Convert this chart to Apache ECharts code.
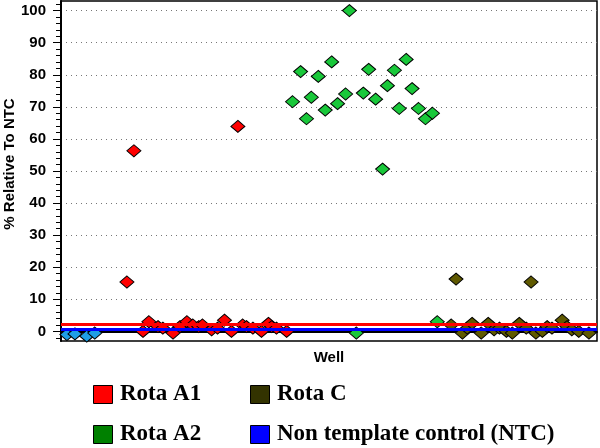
<!DOCTYPE html>
<html>
<head>
<meta charset="utf-8">
<script src="https://cdn.jsdelivr.net/npm/echarts@6/dist/echarts.min.js"></script>
<style>html,body{margin:0;padding:0;background:#fff}#c{width:600px;height:448px}</style>
</head>
<body>
<div id="c"></div>
<script>
// Well positions (x) and % Relative To NTC (y)
const ntcWells   = [1.1, 2.6, 4.8, 6.3];
const ntcValues  = [-1, -0.8, -1.5, -0.5];

const a1Wells  = [12.3, 13.6, 15.3, 16.4, 18.1, 19.0, 20.9, 22.2, 23.5, 24.6, 25.7, 26.4, 28.1, 29.2, 30.5, 31.8, 33.0, 33.9, 34.6, 35.8, 37.4, 38.7, 39.3, 40.2, 42.1];
const a1Values = [15.4, 56.3, 0, 3, 1.5, 1, -0.5, 1.5, 3, 2, 1.5, 2, 0.5, 1, 3.5, 0, 63.9, 2, 1.5, 1, 0, 2.5, 1.5, 1, 0];

const a2Wells  = [43.2, 44.7, 45.8, 46.7, 48.0, 49.3, 50.5, 51.6, 53.1, 53.8, 55.1, 56.4, 57.4, 58.7, 60.0, 60.9, 62.2, 63.1, 64.4, 65.5, 66.7, 68.0, 69.3, 70.2];
const a2Values = [71.6, 81, 66.3, 73, 79.5, 69, 84, 71, 74, 100, -0.5, 74.3, 81.7, 72.4, 50.6, 76.6, 81.4, 69.5, 84.8, 75.7, 69.5, 66.3, 68, 3];

const cWells  = [72.8, 73.7, 74.9, 75.8, 76.7, 78.4, 79.7, 80.8, 81.8, 83.1, 84.2, 85.5, 86.8, 87.7, 88.6, 89.8, 90.7, 91.6, 93.5, 94.4, 95.3, 96.6, 98.5];
const cValues = [2, 16.3, -0.5, 1, 2.5, -0.5, 2.5, 0.5, 1, 0, -0.5, 2.5, 1, 15.4, -0.5, 0, 1.5, 1, 3.5, 1.5, 0.5, 0, -0.5];

const cutoffLine = 2.2;   // red threshold line
const ntcLine    = 0.6;   // blue NTC line

const yTicks = [0, 10, 20, 30, 40, 50, 60, 70, 80, 90, 100];
const yMinorTicks = [-2, 2, 4, 6, 8, 12, 14, 16, 18, 22, 24, 26, 28, 32, 34, 36, 38, 42, 44, 46, 48, 52, 54, 56, 58, 62, 64, 66, 68, 72, 74, 76, 78, 82, 84, 86, 88, 92, 94, 96, 98, 102];

const legendNames = ['Rota A1', 'Rota C', 'Rota A2', 'Non template control (NTC)'];
const legendColors = ['#ff0000', '#333300', '#008000', '#0000ff'];

function pairs(xs, ys) { return xs.map((x, i) => [x, ys[i]]); }

const chart = echarts.init(document.getElementById('c'), null, {renderer: 'canvas'});

const marker = (color) => ({
  type: 'scatter',
  symbol: 'diamond',
  symbolSize: [14, 12],
  clip: false,
  itemStyle: {color: color, borderColor: '#000', borderWidth: 1, opacity: 1},
  emphasis: {disabled: true}
});

const legendGraphics = [];
const legendPos = [[93, 385], [250, 385], [93, 425], [250, 425]];
legendNames.forEach((n, i) => {
  const [x, y] = legendPos[i];
  legendGraphics.push({
    type: 'rect', left: x, top: y, shape: {width: 19, height: 18},
    style: {fill: legendColors[i], stroke: '#000', lineWidth: 1}
  });
  legendGraphics.push({
    type: 'text', left: x + 27, top: y - 2,
    style: {text: n, fill: '#000', font: 'bold 23px "Liberation Serif", "Times New Roman", serif'}
  });
});

chart.setOption({
  animation: false,
  backgroundColor: '#fff',
  grid: {left: 61, right: 3, top: 1, bottom: 107, outerBoundsMode: 'none', containLabel: false, show: true, borderColor: '#000', borderWidth: 1.5, backgroundColor: 'transparent'},
  xAxis: {
    type: 'value', min: 0, max: 100,
    name: 'Well', nameLocation: 'middle', nameGap: 9,
    nameTextStyle: {fontFamily: 'Liberation Sans, Arial, sans-serif', fontWeight: 'bold', fontSize: 15, color: '#000', verticalAlign: 'top'},
    axisLine: {show: true, lineStyle: {color: '#000', width: 2}},
    axisTick: {show: false}, axisLabel: {show: false}, splitLine: {show: false}
  },
  yAxis: [{
    type: 'value', min: -3, max: 103,
    name: '% Relative To NTC', nameLocation: 'middle', nameGap: 44, nameRotate: 90, nameMoveOverlap: false,
    nameTextStyle: {fontFamily: 'Liberation Sans, Arial, sans-serif', fontWeight: 'bold', fontSize: 15, color: '#000', padding: [0, 0, 0, 14]},
    axisLine: {show: true, lineStyle: {color: '#000', width: 2}},
    axisTick: {show: true, length: 8, customValues: yTicks, lineStyle: {color: '#000', width: 1}},
    axisLabel: {customValues: yTicks, margin: 15, fontFamily: 'Liberation Sans, Arial, sans-serif', fontWeight: 'bold', fontSize: 15, color: '#000'},
    splitLine: {show: true, lineStyle: {color: '#777', type: [1, 4], width: 1}}
  }, {
    type: 'value', min: -3, max: 103, position: 'left', offset: 0,
    axisLine: {show: false},
    axisTick: {show: true, length: 5, customValues: yMinorTicks, lineStyle: {color: '#000', width: 1}},
    axisLabel: {show: false},
    splitLine: {show: false}
  }],
  graphic: legendGraphics,
  series: [
    Object.assign(marker('#19c83a'), {name: 'Rota A2', data: pairs(a2Wells, a2Values), z: 3}),
    Object.assign(marker('#ff0000'), {name: 'Rota A1', data: pairs(a1Wells, a1Values), z: 3}),
    Object.assign(marker('#5f5900'), {name: 'Rota C', data: pairs(cWells, cValues), z: 3}),
    Object.assign(marker('#1e9fe6'), {name: 'Non template control (NTC)', data: pairs(ntcWells, ntcValues), z: 3}),
    {
      type: 'line', name: 'lines', data: [], z: 5, silent: true,
      markLine: {
        silent: true, symbol: ['none', 'none'], label: {show: false}, animation: false,
        data: [
          {yAxis: cutoffLine, lineStyle: {color: '#ff0000', width: 3, type: 'solid'}},
          {yAxis: ntcLine, lineStyle: {color: '#0000ff', width: 3, type: 'solid'}}
        ]
      }
    }
  ]
});
</script>
</body>
</html>
